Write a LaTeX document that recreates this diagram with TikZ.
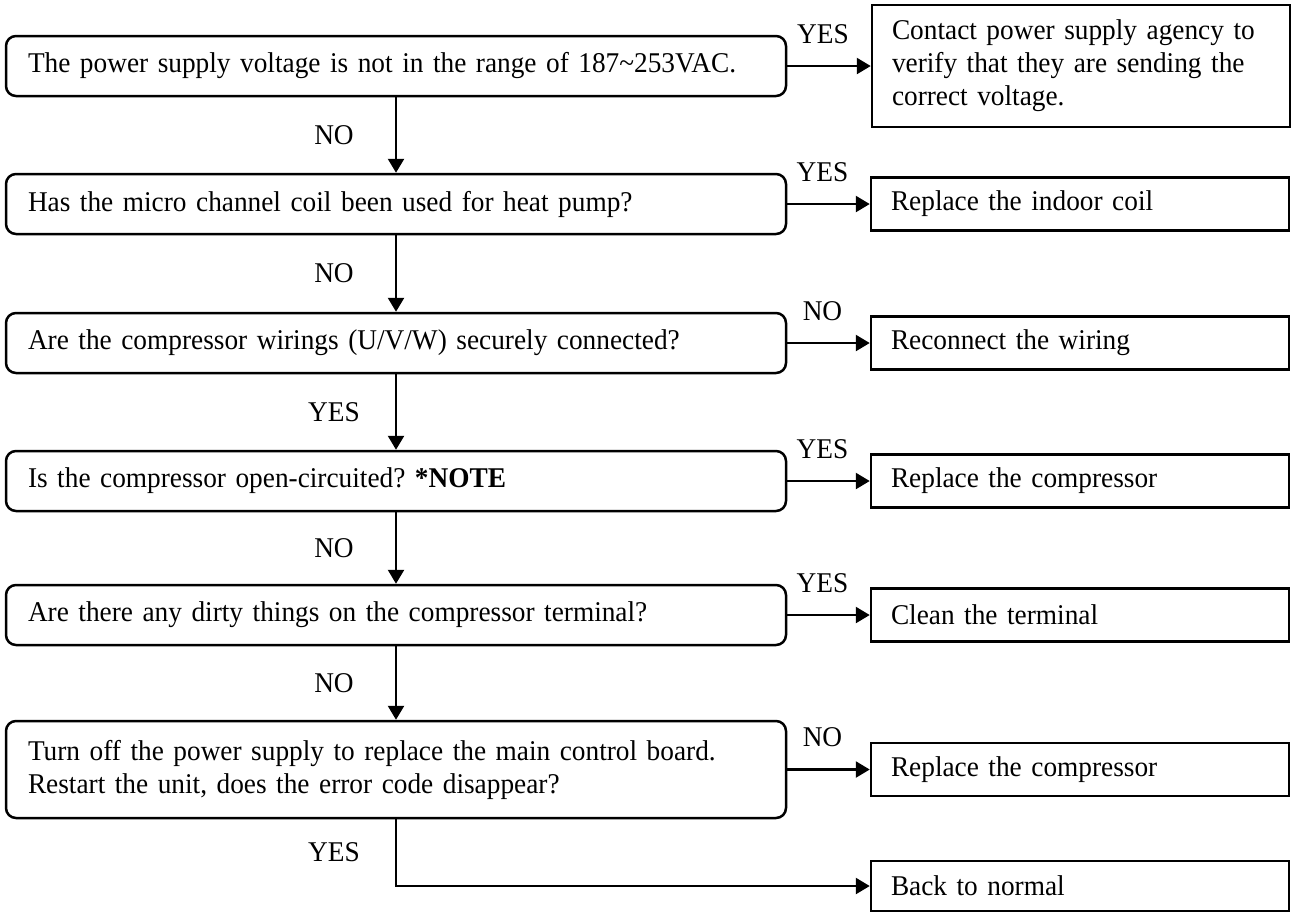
\documentclass[tikz,border=0pt]{standalone}
\usepackage{fontspec}
\setmainfont{Liberation Serif}[FakeStretch=0.955]
\usetikzlibrary{arrows.meta,positioning}

\begin{document}
\begin{tikzpicture}[x=0.5pt,y=-0.5pt,
every node/.style={font=\fontsize{14.3}{16.5}\selectfont\frenchspacing}, qbox/.style={draw,line width=1.25pt,
rounded corners=5pt,align=left,text width=368pt,inner xsep=11pt,minimum height=30pt},
abox/.style={draw,line width=1.25pt,align=left,text width=189pt,inner xsep=10pt,minimum height=26.5pt},
arr/.style={-{Triangle[length=7pt,width=8pt]},line width=1.25pt},
dlbl/.style={xshift=-31pt}, rlbl/.style={yshift=16pt,xshift=-3pt}]
\useasboundingbox (0,0) rectangle (1298,912);

\node[qbox] (supply) at (396,66) {The power supply voltage is not in the range of 187\textasciitilde253VAC.};
\node[abox,minimum height=61pt] (agency) at (1081,66) {Contact power supply agency to\\verify that they are sending the\\correct voltage.};
\draw[arr] (supply) -- node[rlbl] {YES} (agency);

\node[qbox] (coil) at (396,204) {Has the micro channel coil been used for heat pump?};
\node[abox] (indoor) at (1080,204) {Replace the indoor coil};
\draw[arr] (supply) -- node[dlbl] {NO} (coil); \draw[arr] (coil) -- node[rlbl] {YES} (indoor);

\node[qbox] (wiring) at (396,343) {Are the compressor wirings (U/V/W) securely connected?};
\node[abox] (rewire) at (1080,343) {Reconnect the wiring};
\draw[arr] (coil) -- node[dlbl] {NO} (wiring); \draw[arr] (wiring) -- node[rlbl] {NO} (rewire);

\node[qbox] (opencirc) at (396,481) {Is the compressor open-circuited? \textbf{*NOTE}};
\node[abox] (compA) at (1080,481) {Replace the compressor};
\draw[arr] (wiring) -- node[dlbl] {YES} (opencirc); \draw[arr] (opencirc) -- node[rlbl] {YES} (compA);

\node[qbox] (dirty) at (396,615) {Are there any dirty things on the compressor terminal?};
\node[abox] (clean) at (1080,615) {Clean the terminal};
\draw[arr] (opencirc) -- node[dlbl] {NO} (dirty); \draw[arr] (dirty) -- node[rlbl] {YES} (clean);

\node[qbox,minimum height=48.5pt] (board) at (396,769.5) {Turn off the power supply to replace the main control board.\\Restart the unit, does the error code disappear?};
\node[abox] (compB) at (1080,769.5) {Replace the compressor};
\draw[arr] (dirty) -- node[dlbl] {NO} (board); \draw[arr] (board) -- node[rlbl] {NO} (compB);

\node[abox,minimum height=25pt] (normal) at (1080,886) {Back to normal};
\draw[arr] (board.south) |- node[pos=0.25,dlbl] {YES} (normal);
\end{tikzpicture}
\end{document}
